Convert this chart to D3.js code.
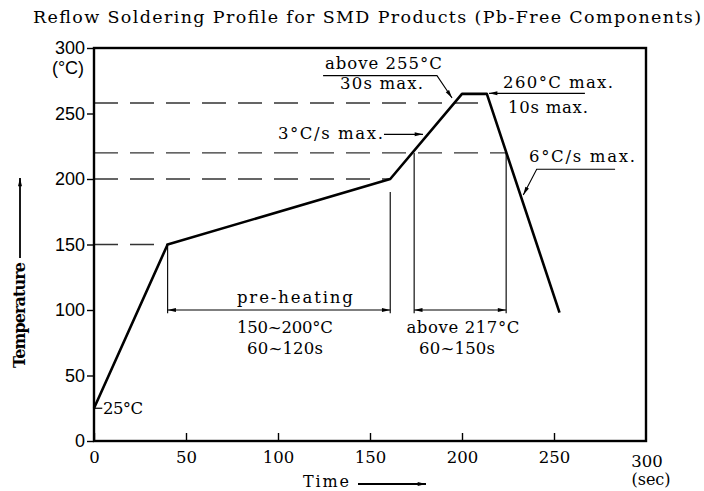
<!DOCTYPE html>
<html>
<head>
<meta charset="utf-8">
<script src="https://cdn.jsdelivr.net/npm/d3@7"></script>
<style>
  body { margin: 0; background: #fff; }
  text { font-family: "DejaVu Serif", serif; fill: #000; }
</style>
</head>
<body>
<div id="chart"></div>
<script>
// profile (time in s, temperature in °C)
const profileTime = [0, 40, 161, 200, 213.5, 253];
const profileTemp = [25, 150, 200, 265, 265, 98];
// dashed reference levels and where each one stops
const refTemp    = [150, 200, 220, 258];
const refEndTime = [40, 161, 224, 215];
const xTicks = [0, 50, 100, 150, 200, 250];
const yTicks = [0, 50, 100, 150, 200, 250, 300];
// dimension zones
const preheatZone = [40, 161];
const aboveZone   = [174, 224];

const WIDTH = 704, HEIGHT = 491;
const x = d3.scaleLinear().domain([0, 300]).range([94, 646]);
const y = d3.scaleLinear().domain([0, 300]).range([441, 48]);

const svg = d3.select("#chart")
              .append("svg")
              .attr("width", WIDTH)
              .attr("height", HEIGHT);

// arrowhead
const defs = svg.append("defs");
defs.append("marker")
    .attr("id", "arr")
    .attr("viewBox", "0 0 10 6")
    .attr("refX", 10).attr("refY", 3)
    .attr("markerWidth", 10).attr("markerHeight", 5)
    .attr("markerUnits", "userSpaceOnUse")
    .attr("orient", "auto-start-reverse")
    .append("path").attr("d", "M0,0.6L10,3L0,5.4Z").attr("fill", "#000");

// title
svg.append("text")
   .attr("x", 367).attr("y", 23)
   .attr("text-anchor", "middle")
   .attr("font-size", 17.5)
   .attr("textLength", 668)
   .text("Reflow Soldering Profile for SMD Products (Pb-Free Components)");

// dashed levels
svg.selectAll(".ref")
   .data(refTemp)
   .enter()
   .append("line")
     .attr("x1", x(0))
     .attr("x2", (d, i) => x(refEndTime[i]))
     .attr("y1", d => y(d))
     .attr("y2", d => y(d))
     .attr("stroke", "#333")
     .attr("stroke-width", 1.3)
     .attr("stroke-dasharray", "24,12");

// y axis (ticks outward)
const yAxis = svg.append("g")
   .attr("transform", `translate(${x(0)},0)`)
   .call(d3.axisLeft(y).tickValues(yTicks).tickSize(7).tickPadding(2));
yAxis.select(".domain").remove();
yAxis.selectAll("line").attr("stroke-width", 1.4);
yAxis.selectAll("text")
     .style("font-family", "'Liberation Sans', Arial, sans-serif")
     .attr("font-size", 18);

// x axis (ticks inward)
const xAxis = svg.append("g")
   .attr("transform", `translate(0,${y(0)})`)
   .call(d3.axisBottom(x).tickValues(xTicks).tickSize(-8).tickPadding(10));
xAxis.select(".domain").remove();
xAxis.selectAll("line").attr("stroke-width", 1.4);
xAxis.selectAll("text").attr("font-size", 16.5);

// frame
svg.append("rect")
   .attr("x", x(0)).attr("y", y(300))
   .attr("width", x(300) - x(0))
   .attr("height", y(0) - y(300))
   .attr("fill", "none")
   .attr("stroke", "#000")
   .attr("stroke-width", 2.4);

svg.append("text").attr("x", 647).attr("y", 467).attr("text-anchor", "middle")
   .attr("font-size", 16.5).text("300");
svg.append("text").attr("x", 651).attr("y", 485).attr("text-anchor", "middle")
   .attr("font-size", 16).text("(sec)");
svg.append("text").attr("x", 68).attr("y", 74).attr("text-anchor", "middle")
   .style("font-family", "'Liberation Sans', Arial, sans-serif")
   .attr("font-size", 18).text("(°C)");

// zone extension lines
const extLines = [
  [preheatZone[0], 150], [preheatZone[1], 190],
  [aboveZone[0], 220], [aboveZone[1], 220]
];
svg.selectAll(".ext")
   .data(extLines)
   .enter()
   .append("line")
     .attr("x1", d => x(d[0])).attr("x2", d => x(d[0]))
     .attr("y1", d => y(d[1])).attr("y2", y(97.5))
     .attr("stroke", "#111")
     .attr("stroke-width", 1.2);

// dimension arrows
[preheatZone, aboveZone].forEach(z => {
  svg.append("line")
     .attr("x1", x(z[0])).attr("x2", x(z[1]))
     .attr("y1", y(100)).attr("y2", y(100))
     .attr("stroke", "#000").attr("stroke-width", 1.1)
     .attr("marker-start", "url(#arr)")
     .attr("marker-end", "url(#arr)");
});

// profile
const line = d3.line().x(d => x(d[0])).y(d => y(d[1]));
svg.append("path")
   .datum(d3.zip(profileTime, profileTemp))
   .attr("d", line)
   .attr("fill", "none")
   .attr("stroke", "#000")
   .attr("stroke-width", 2.6)
   .attr("stroke-linejoin", "round");

// leader lines with arrows (data coordinates)
const leaders = [
  [[124.5, 278.9], [186.4, 278.9], [194.6, 261.8]],
  [[266.8, 265.4], [214.7, 265.4]],
  [[157.6, 234.1], [178.8, 234.1]],
  [[283.2, 207.4], [240.6, 207.4], [233.3, 187.8]]
];
svg.selectAll(".leader")
   .data(leaders)
   .enter()
   .append("path")
     .attr("d", line)
     .attr("fill", "none")
     .attr("stroke", "#000")
     .attr("stroke-width", 1.1)
     .attr("marker-end", "url(#arr)");

// 25°C tick
svg.append("line")
   .attr("x1", x(0)).attr("x2", x(4.5))
   .attr("y1", y(25)).attr("y2", y(25))
   .attr("stroke", "#000").attr("stroke-width", 1.2);

// annotation texts: [label, time, temp, width]
const notes = [
  ["above 255°C", 157.3, 288.3, 117],
  ["30s max.", 156.3, 273.1, 83],
  ["260°C max.", 252.2, 274.3, 110],
  ["10s max.", 246.7, 255.2, 80],
  ["3°C/s max.", 128.5, 234.9, 105],
  ["6°C/s max.", 265.2, 217.6, 106],
  ["pre-heating", 109.2, 110.2, 116],
  ["150~200°C", 103.8, 87.3, 96],
  ["60~120s", 103.8, 71.2, 76],
  ["above 217°C", 200.5, 87.3, 113],
  ["60~150s", 197.3, 71.0, 76],
  ["25°C", 15.8, 25.4, 40]
];
svg.selectAll(".note")
   .data(notes)
   .enter()
   .append("text")
     .attr("x", d => x(d[1]))
     .attr("y", d => y(d[2]))
     .attr("dy", "0.36em")
     .attr("text-anchor", "middle")
     .attr("font-size", 16.5)
     .attr("textLength", d => d[3])
     .text(d => d[0]);

// axis titles
svg.append("text")
   .attr("transform", "translate(19,315) rotate(-90)")
   .attr("text-anchor", "middle")
   .attr("dy", "0.36em")
   .attr("font-size", 16)
   .attr("font-weight", "bold")
   .attr("textLength", 106)
   .text("Temperature");
svg.append("line")
   .attr("x1", 20).attr("x2", 20).attr("y1", 258).attr("y2", 178)
   .attr("stroke", "#000").attr("stroke-width", 1.8)
   .attr("marker-end", "url(#arr)");

svg.append("text")
   .attr("x", 326).attr("y", 481)
   .attr("dy", "0.36em")
   .attr("text-anchor", "middle")
   .attr("font-size", 16)
   .attr("textLength", 46)
   .text("Time");
svg.append("line")
   .attr("x1", 358).attr("x2", 426).attr("y1", 484).attr("y2", 484)
   .attr("stroke", "#000").attr("stroke-width", 1.8)
   .attr("marker-end", "url(#arr)");
</script>
</body>
</html>
